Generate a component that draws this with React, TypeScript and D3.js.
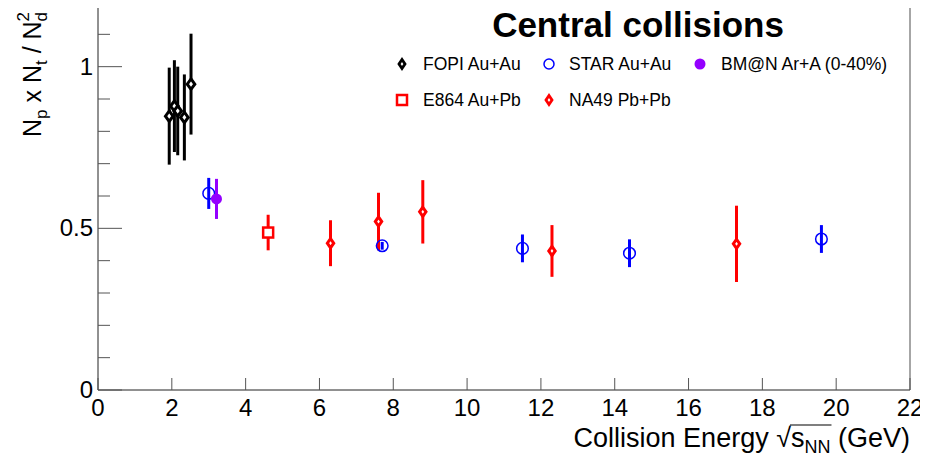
import React, { useEffect, useRef } from "react";
import * as d3 from "d3";

// ---- data ----
const fopiX = [1.93, 2.07, 2.16, 2.34, 2.52];
const fopiY = [0.847, 0.878, 0.863, 0.843, 0.946];
const fopiErr = [0.15, 0.142, 0.137, 0.133, 0.156];

const starX = [3.0, 7.7, 11.5, 14.4, 19.6];
const starY = [0.608, 0.446, 0.438, 0.423, 0.467];
const starErr = [0.048, 0.012, 0.043, 0.043, 0.043];

const bmnX = [3.21];
const bmnY = [0.591];
const bmnErr = [0.062];

const e864X = [4.61];
const e864Y = [0.487];
const e864Err = [0.055];

const na49X = [6.3, 7.6, 8.8, 12.3, 17.3];
const na49Y = [0.454, 0.521, 0.551, 0.43, 0.452];
const na49Err = [0.071, 0.089, 0.098, 0.08, 0.118];

const xTicks = [0, 2, 4, 6, 8, 10, 12, 14, 16, 18, 20, 22];
const yMajor = [0, 0.5, 1];
const yMinor = [0.1, 0.2, 0.3, 0.4, 0.6, 0.7, 0.8, 0.9, 1.1];

const W = 928, H = 464;
const FONT = "'Liberation Sans', Arial, Helvetica, sans-serif";

export default function App() {
  const ref = useRef<SVGSVGElement | null>(null);

  useEffect(() => {
    const svg = d3.select(ref.current);
    svg.selectAll("*").remove();
    const x = d3.scaleLinear().domain([0, 22]).range([98, 910]);
    const y = d3.scaleLinear().domain([0, 1.2]).range([390, 2]);

    svg.append("rect").attr("width", W).attr("height", H).attr("fill", "#fff");

    // frame
    svg.append("line").attr("x1", 98).attr("x2", 910).attr("y1", 2).attr("y2", 2).attr("stroke", "#888").attr("stroke-width", 1.5);
    svg.append("line").attr("x1", 910).attr("x2", 910).attr("y1", 2).attr("y2", 390).attr("stroke", "#888").attr("stroke-width", 1.5);
    svg.append("line").attr("x1", 98).attr("x2", 98).attr("y1", 2).attr("y2", 390).attr("stroke", "#222").attr("stroke-width", 1);
    svg.append("line").attr("x1", 98).attr("x2", 910).attr("y1", 390).attr("y2", 390).attr("stroke", "#222").attr("stroke-width", 1);

    // x ticks
    const gx = svg.append("g");
    xTicks.forEach((t) => {
      gx.append("line").attr("x1", x(t)).attr("x2", x(t)).attr("y1", 390).attr("y2", 378).attr("stroke", "#555").attr("stroke-width", 1);
      gx.append("text").attr("x", x(t)).attr("y", 416).attr("text-anchor", "middle")
        .attr("font-family", FONT).attr("font-size", 24).attr("fill", "#000").text(String(t));
    });
    // y ticks
    yMajor.forEach((t) => {
      svg.append("line").attr("x1", 98).attr("x2", 122).attr("y1", y(t)).attr("y2", y(t)).attr("stroke", "#555").attr("stroke-width", 1);
      svg.append("text").attr("x", 93).attr("y", y(t) + 8).attr("text-anchor", "end")
        .attr("font-family", FONT).attr("font-size", 24).attr("fill", "#000").text(String(t));
    });
    yMinor.forEach((t) => {
      svg.append("line").attr("x1", 98).attr("x2", 110).attr("y1", y(t)).attr("y2", y(t)).attr("stroke", "#555").attr("stroke-width", 1);
    });

    // x axis title
    const xt = svg.append("text").attr("x", 910).attr("y", 447).attr("text-anchor", "end")
      .attr("font-family", FONT).attr("font-size", 27).attr("fill", "#000");
    xt.append("tspan").text("Collision Energy ");
    xt.append("tspan").text("√");
    xt.append("tspan").text("s");
    xt.append("tspan").attr("font-size", 18).attr("dy", 6).text("NN");
    xt.append("tspan").attr("dy", -6).text(" (GeV)");
    try {
      const node = xt.node() as SVGTextElement;
      const full = node.textContent || "";
      const iSqrt = full.indexOf("√");
      const start = node.getStartPositionOfChar(iSqrt + 1).x;
      const endIdx = full.indexOf(" (");
      const end = node.getEndPositionOfChar(endIdx - 1).x;
      const sq = node.getExtentOfChar(iSqrt);
      svg.append("line").attr("x1", start - 1).attr("x2", end + 1).attr("y1", sq.y + 2).attr("y2", sq.y + 2)
        .attr("stroke", "#000").attr("stroke-width", 1.2);
    } catch (e) {}

    // y axis title
    const yt = svg.append("text").attr("font-family", FONT).attr("font-size", 25).attr("fill", "#000")
      .attr("transform", "translate(41,137) rotate(-90)");
    yt.append("tspan").text("N");
    yt.append("tspan").attr("font-size", 17).attr("dy", 6).text("p");
    yt.append("tspan").attr("dy", -6).text(" x N");
    yt.append("tspan").attr("font-size", 17).attr("dy", 6).text("t");
    yt.append("tspan").attr("dy", -6).text(" / N");
    yt.append("tspan").attr("font-size", 17).attr("dy", 6).text("d");
    yt.append("tspan").attr("font-size", 17).attr("dx", -9.5).attr("dy", -18).text("2");

    // title
    svg.append("text").attr("x", 638).attr("y", 37).attr("text-anchor", "middle")
      .attr("font-family", FONT).attr("font-weight", "bold").attr("font-size", 35).attr("fill", "#000").text("Central collisions");

    const diamond = (hw: number, hh: number) => `M0,${-hh}L${hw},0L0,${hh}L${-hw},0Z`;

    const errBars = (xs: number[], ys: number[], es: number[], color: string, w: number) => {
      xs.forEach((xv, i) => {
        svg.append("line").attr("x1", x(xv)).attr("x2", x(xv)).attr("y1", y(ys[i] - es[i])).attr("y2", y(ys[i] + es[i]))
          .attr("stroke", color).attr("stroke-width", w);
      });
    };

    // FOPI
    errBars(fopiX, fopiY, fopiErr, "#000", 3);
    fopiX.forEach((xv, i) => {
      svg.append("path").attr("d", diamond(3.8, 5.2)).attr("transform", `translate(${x(xv)},${y(fopiY[i])})`)
        .attr("fill", "#fff").attr("stroke", "#000").attr("stroke-width", 3);
    });
    // NA49
    errBars(na49X, na49Y, na49Err, "#ff0000", 3);
    na49X.forEach((xv, i) => {
      svg.append("path").attr("d", diamond(3.2, 4.6)).attr("transform", `translate(${x(xv)},${y(na49Y[i])})`)
        .attr("fill", "#fff").attr("stroke", "#ff0000").attr("stroke-width", 3);
    });
    // E864
    errBars(e864X, e864Y, e864Err, "#ff0000", 3);
    e864X.forEach((xv, i) => {
      svg.append("rect").attr("x", x(xv) - 5).attr("y", y(e864Y[i]) - 5).attr("width", 10).attr("height", 10)
        .attr("fill", "#fff").attr("stroke", "#ff0000").attr("stroke-width", 2.5);
    });
    // STAR
    errBars(starX, starY, starErr, "#0000ff", 3);
    starX.forEach((xv, i) => {
      svg.append("circle").attr("cx", x(xv)).attr("cy", y(starY[i])).attr("r", 5.8)
        .attr("fill", "none").attr("stroke", "#0000ff").attr("stroke-width", 1.5);
    });
    // BM@N
    errBars(bmnX, bmnY, bmnErr, "#9400ff", 3);
    bmnX.forEach((xv, i) => {
      svg.append("circle").attr("cx", x(xv)).attr("cy", y(bmnY[i])).attr("r", 5.5).attr("fill", "#9400ff");
    });

    // legend
    const lg = svg.append("g").attr("font-family", FONT).attr("font-size", 17.5).attr("fill", "#000");
    const legText = (tx: number, ty: number, s: string) =>
      lg.append("text").attr("x", tx).attr("y", ty + 6).text(s);
    lg.append("path").attr("d", diamond(3, 4.5)).attr("transform", "translate(402,64)").attr("fill", "#fff").attr("stroke", "#000").attr("stroke-width", 2.8);
    legText(423, 64, "FOPI Au+Au");
    lg.append("circle").attr("cx", 549).attr("cy", 64).attr("r", 5).attr("fill", "none").attr("stroke", "#0000ff").attr("stroke-width", 1.5);
    legText(569, 64, "STAR Au+Au");
    lg.append("circle").attr("cx", 700).attr("cy", 64).attr("r", 5.5).attr("fill", "#9400ff");
    legText(721, 64, "BM@N Ar+A (0-40%)");
    lg.append("rect").attr("x", 397).attr("y", 95).attr("width", 10).attr("height", 10).attr("fill", "#fff").attr("stroke", "#ff0000").attr("stroke-width", 2.5);
    legText(423, 100, "E864 Au+Pb");
    lg.append("path").attr("d", diamond(3, 4.5)).attr("transform", "translate(549,100)").attr("fill", "#fff").attr("stroke", "#ff0000").attr("stroke-width", 2.8);
    legText(569, 100, "NA49 Pb+Pb");
  }, []);

  return (
    <div style={{ margin: -8 }}>
      <svg ref={ref} width={W} height={H} style={{ display: "block" }} />
    </div>
  );
}
